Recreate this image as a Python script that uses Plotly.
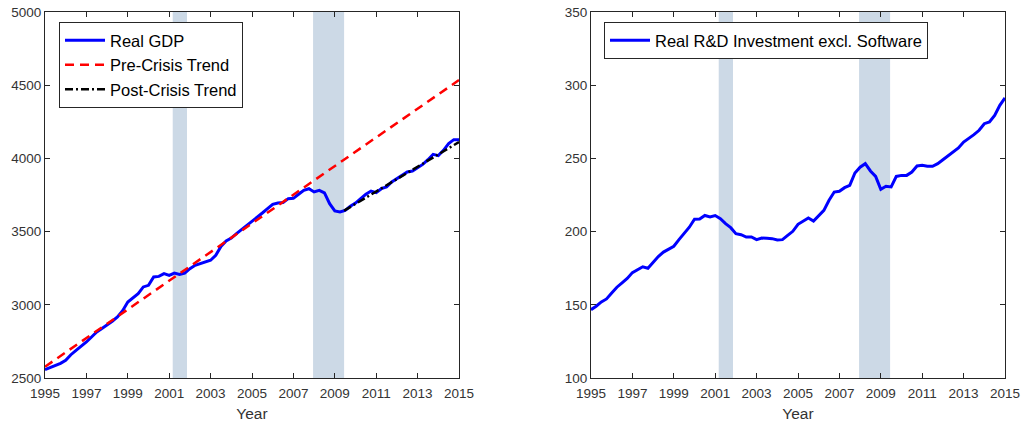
import plotly.graph_objects as go

# ---------------- data ----------------
quarters = [1995 + 0.25 * i for i in range(81)]

gdp = [2557, 2570, 2582, 2600, 2621, 2659, 2689, 2715, 2746, 2780, 2814, 2838,
       2860, 2888, 2917, 2960, 3019, 3045, 3076, 3122, 3133, 3190, 3194, 3213,
       3201, 3217, 3208, 3217, 3247, 3270, 3281, 3292, 3304, 3338, 3399, 3436,
       3456, 3486, 3513, 3543, 3572, 3600, 3627, 3657, 3686, 3695, 3698, 3725,
       3727, 3755, 3782, 3793, 3771, 3782, 3764, 3691, 3641, 3634, 3645, 3673,
       3695, 3725, 3755, 3777, 3766, 3793, 3805, 3839, 3862, 3880, 3907, 3914,
       3934, 3959, 3991, 4028, 4019, 4055, 4101, 4128, 4128]

rd = [146.7, 149, 152, 154, 158, 162, 165, 168, 172, 174, 176, 175,
      179, 183, 186, 188, 190, 194.5, 198.6, 203, 208.4, 208.6, 211, 210,
      211, 208.8, 205.4, 202.7, 198.6, 197.9, 196.3, 196.3, 194.5, 195.6, 195.4, 195.2,
      194.3, 194.5, 197.4, 200.2, 205, 207, 209.3, 207.2, 211, 214.5, 221.4, 227,
      227.5, 230, 231.6, 240, 244, 246.4, 241.4, 237.7, 228.9, 231, 230.5, 237.7,
      238.4, 238.4, 240.7, 244.8, 245.3, 244.6, 244.6, 246.4, 249.1, 251.6, 254.4, 257.1,
      261.2, 263.5, 266.2, 269.2, 273.7, 274.9, 279.4, 286.2, 291.3]

pre_trend_x = [1995, 2015]
pre_trend_y = [2577, 4535]
post_trend_x = [2009.45, 2015]
post_trend_y = [3643, 4112]

recessions = [(2001.17, 2001.86), (2007.95, 2009.45)]

x_ticks = list(range(1995, 2016, 2))
gdp_ticks = [2500, 3000, 3500, 4000, 4500, 5000]
rd_ticks = [100, 150, 200, 250, 300, 350]

# ---------------- figure ----------------
FONT = "Liberation Sans, Arial, sans-serif"
AX = "#262626"
TXT = "#333333"
SHADE = "#ccd9e6"

W, H = 1024, 425

def px_x(p):
    return p / W

def px_y(p):
    return 1 - p / H

fig = go.Figure()

fig.add_trace(go.Scatter(x=quarters, y=gdp, mode="lines", name="Real GDP",
                         line=dict(color="#0000ff", width=3), xaxis="x", yaxis="y",
                         legend="legend"))
fig.add_trace(go.Scatter(x=pre_trend_x, y=pre_trend_y, mode="lines", name="Pre-Crisis Trend",
                         line=dict(color="#ff0000", width=2.5, dash="9px,6px"), xaxis="x", yaxis="y",
                         legend="legend"))
fig.add_trace(go.Scatter(x=post_trend_x, y=post_trend_y, mode="lines", name="Post-Crisis Trend",
                         line=dict(color="#000000", width=2.5, dash="8px,3px,2px,3px"),
                         xaxis="x", yaxis="y", legend="legend"))
fig.add_trace(go.Scatter(x=quarters, y=rd, mode="lines", name="Real R&D Investment excl. Software",
                         line=dict(color="#0000ff", width=3), xaxis="x2", yaxis="y2",
                         legend="legend2"))

shapes = []
for xa in ["x", "x2"]:
    ya = "y" if xa == "x" else "y2"
    for a, b in recessions:
        shapes.append(dict(type="rect", xref=xa, yref=ya + " domain", x0=a, x1=b, y0=0, y1=1,
                           fillcolor=SHADE, line=dict(width=0), layer="below"))

axis_common = dict(showline=True, linecolor=AX, linewidth=1, mirror="ticks",
                   ticks="inside", ticklen=5, tickcolor=AX, showgrid=False, zeroline=False,
                   automargin=False,
                   tickfont=dict(family=FONT, size=13.5, color=TXT))

xdom1 = [px_x(45), px_x(459)]
xdom2 = [px_x(591), px_x(1005)]
ydom = [px_y(378), px_y(12)]

title_font = dict(family=FONT, size=15.5, color=TXT)
legend_font = dict(family=FONT, size=16.5, color="#000000")

fig.update_layout(
    width=W, height=H,
    margin=dict(l=0, r=0, t=0, b=0),
    paper_bgcolor="white", plot_bgcolor="white",
    font=dict(family=FONT, color=TXT),
    shapes=shapes,
    xaxis=dict(domain=xdom1, range=[1995, 2015], tickvals=x_ticks, anchor="y",
               ticklabelstandoff=3,
               title=dict(text="Year", font=title_font, standoff=7), **axis_common),
    yaxis=dict(domain=ydom, range=[2500, 5000], tickvals=gdp_ticks, anchor="x", **axis_common),
    xaxis2=dict(domain=xdom2, range=[1995, 2015], tickvals=x_ticks, anchor="y2",
                ticklabelstandoff=3,
                title=dict(text="Year", font=title_font, standoff=7), **axis_common),
    yaxis2=dict(domain=ydom, range=[100, 350], tickvals=rd_ticks, anchor="x2", **axis_common),
    legend=dict(x=px_x(59), y=px_y(22), xanchor="left", yanchor="top",
                bgcolor="white", bordercolor=AX, borderwidth=1,
                font=legend_font, tracegroupgap=0, itemwidth=40),
    legend2=dict(x=px_x(604), y=px_y(22), xanchor="left", yanchor="top",
                 bgcolor="white", bordercolor=AX, borderwidth=1,
                 font=legend_font, itemwidth=40),
    showlegend=True,
)

fig.write_html("out.html", config={"displayModeBar": False},
               post_script="document.body.style.margin='0';document.body.style.overflow='hidden';")
